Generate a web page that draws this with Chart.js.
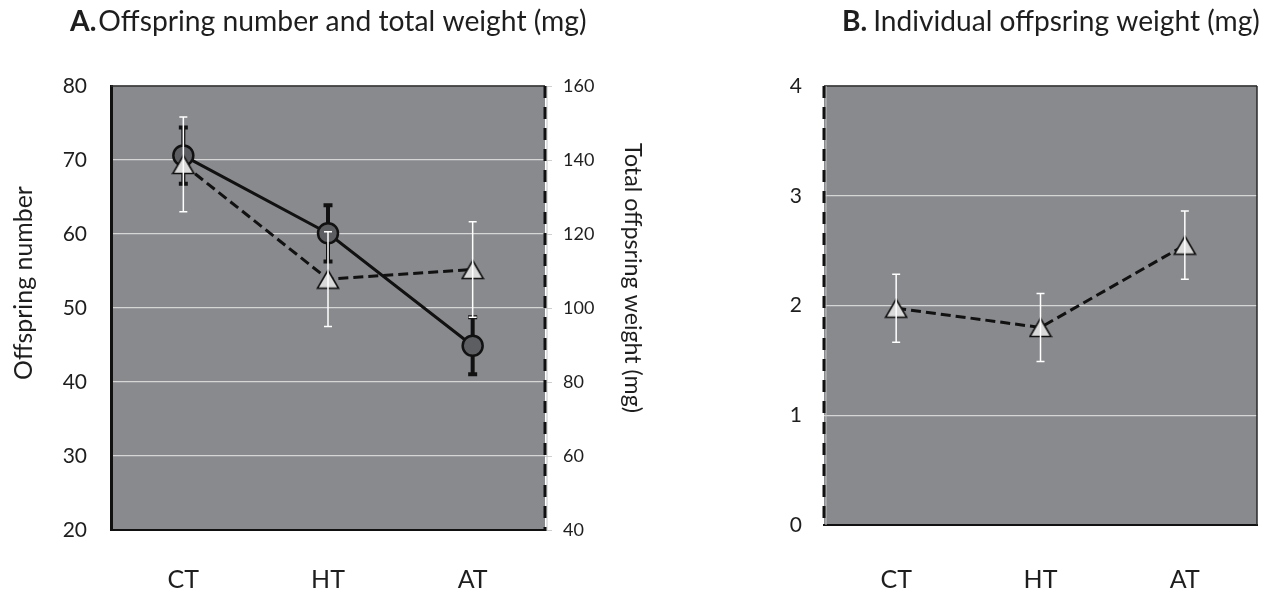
<!DOCTYPE html>
<html><head><meta charset="utf-8">
<script src="https://cdn.jsdelivr.net/npm/chart.js@4.4.1/dist/chart.umd.min.js"></script>
<style>
html,body{margin:0;padding:0;background:#fff;width:1272px;height:593px;overflow:hidden;}
#wa{position:absolute;left:0;top:0;width:660px;height:593px;}
#wb{position:absolute;left:640px;top:0;width:632px;height:593px;}
canvas{display:block;}
</style></head><body>
<div id="wa"><canvas id="ca" width="660" height="593"></canvas></div>
<div id="wb"><canvas id="cb" width="632" height="593"></canvas></div>
<script>
// ---- data ----
const categories = ['CT', 'HT', 'AT'];
const offspringNumber = [70.6, 60.1, 44.9];
const offspringNumberErr = [3.8, 3.8, 3.85];
const totalWeight = [138.8, 107.8, 110.4];
const totalWeightErr = [12.8, 12.8, 12.9];
const individualWeight = [1.975, 1.80, 2.55];
const individualWeightErr = [0.31, 0.31, 0.31];
const leftTicksA = [20, 30, 40, 50, 60, 70, 80];
const rightTicksA = [40, 60, 80, 100, 120, 140, 160];
const ticksB = [0, 1, 2, 3, 4];
const titleALetter = 'A.';
const titleAText = 'Offspring number and total weight (mg)';
const titleBLetter = 'B.';
const titleBText = 'Individual offpsring weight (mg)';
const yTitleA = 'Offspring number';
const y2TitleA = 'Total offpsring weight (mg)';

const FONT = 'Lato, "Noto Sans", sans-serif';
const TXT = '#1e1e1e';
const PLOT_BG = '#898a8e';
const GRID = '#d6d6d6';

// triangle marker centred on its bounding box (as in the original)
function makeTriangle(w, h){
  const c = document.createElement('canvas');
  c.width = w + 3; c.height = h + 3;
  const g = c.getContext('2d');
  g.beginPath();
  g.moveTo(c.width / 2, 1.5);
  g.lineTo(c.width - 1.5, c.height - 1.5);
  g.lineTo(1.5, c.height - 1.5);
  g.closePath();
  g.fillStyle = '#d9d9d9'; g.fill();
  g.lineWidth = 1.6; g.strokeStyle = '#111'; g.lineJoin = 'miter'; g.stroke();
  return c;
}
const TRI = makeTriangle(21, 18);

function setTicks(arr){ return s => { s.ticks = arr.map(v => ({value: v})); }; }

function errorBarPlugin(specs){
  function draw(chart, list){
    const ctx = chart.ctx;
    list.forEach(s => {
      const ds = chart.data.datasets[s.ds];
      const xs = chart.scales.x, ys = chart.scales[ds.yAxisID];
      ds.data.forEach((v, i) => {
        const x = xs.getPixelForValue(i);
        const yt = ys.getPixelForValue(v + s.err[i]);
        const yb = ys.getPixelForValue(v - s.err[i]);
        ctx.save();
        ctx.strokeStyle = s.color; ctx.lineWidth = s.width; ctx.lineCap = 'butt';
        ctx.beginPath();
        ctx.moveTo(x, yt); ctx.lineTo(x, yb);
        ctx.moveTo(x - s.cap / 2, yt); ctx.lineTo(x + s.cap / 2, yt);
        ctx.moveTo(x - s.cap / 2, yb); ctx.lineTo(x + s.cap / 2, yb);
        ctx.stroke();
        ctx.restore();
      });
    });
  }
  return {
    id: 'errbars',
    beforeDatasetsDraw(chart){ draw(chart, specs.filter(s => s.phase === 'before')); },
    afterDatasetsDraw(chart){ draw(chart, specs.filter(s => s.phase === 'after')); }
  };
}

function framePlugin(sides){
  return {
    id: 'frame',
    beforeDraw(chart){
      const {ctx, chartArea: a} = chart;
      ctx.save(); ctx.fillStyle = PLOT_BG;
      ctx.fillRect(a.left, a.top, a.right - a.left, a.bottom - a.top);
      ctx.restore();
    },
    afterDraw(chart){
      const {ctx, chartArea: a} = chart;
      ctx.save(); ctx.strokeStyle = '#2a2a2a'; ctx.lineWidth = 1.5;
      ctx.beginPath();
      if (sides.top){ ctx.moveTo(a.left, a.top); ctx.lineTo(a.right, a.top); }
      if (sides.right){ ctx.moveTo(a.right, a.top); ctx.lineTo(a.right, a.bottom); }
      ctx.stroke();
      if (sides.dashX !== undefined){
        const x = sides.dashX === 'left' ? a.left : a.right;
        ctx.strokeStyle = '#c4c4c4'; ctx.lineWidth = 1;
        ctx.beginPath();
        ctx.moveTo(x + 2, a.top); ctx.lineTo(x + 2, a.bottom);
        ctx.stroke();
        ctx.strokeStyle = '#111'; ctx.lineWidth = 3;
        ctx.setLineDash([12, 9]);
        ctx.beginPath();
        ctx.moveTo(x, a.top); ctx.lineTo(x, a.bottom + 1);
        ctx.stroke();
      }
      ctx.restore();
    }
  };
}

function textPlugin(items){
  return {
    id: 'texts',
    afterDraw(chart){
      const ctx = chart.ctx;
      items.forEach(it => {
        ctx.save();
        ctx.fillStyle = TXT;
        if (it.type === 'title'){
          ctx.font = 'bold 20px ' + FONT;
          const wb = ctx.measureText(it.letter).width;
          ctx.font = 'normal 20px ' + FONT;
          const wr = ctx.measureText(it.text).width;
          const size = 20 * (it.w - it.gap) / (wb + wr);
          ctx.textBaseline = 'alphabetic'; ctx.textAlign = 'left';
          ctx.font = 'bold ' + size + 'px ' + FONT;
          ctx.fillText(it.letter, it.x, it.y);
          const lw = ctx.measureText(it.letter).width;
          ctx.font = 'normal ' + size + 'px ' + FONT;
          ctx.fillText(it.text, it.x + lw + it.gap, it.y);
        } else {
          ctx.font = 'normal 20px ' + FONT;
          const size = 20 * it.w / ctx.measureText(it.text).width;
          ctx.font = 'normal ' + size + 'px ' + FONT;
          ctx.translate(it.x, it.y);
          ctx.rotate(it.rot);
          ctx.textAlign = 'center'; ctx.textBaseline = 'middle';
          ctx.fillText(it.text, 0, 0);
        }
        ctx.restore();
      });
    }
  };
}

Chart.defaults.font.family = FONT;
Chart.defaults.color = TXT;

// ---- Chart A ----
new Chart(document.getElementById('ca'), {
  type: 'line',
  data: {
    labels: categories,
    datasets: [
      {
        label: 'Offspring number',
        data: offspringNumber,
        yAxisID: 'y',
        order: 2,
        borderColor: '#111',
        borderWidth: 3,
        pointStyle: 'circle',
        pointRadius: 10,
        pointBackgroundColor: '#5d5e62',
        pointBorderColor: '#111',
        pointBorderWidth: 2.5,
        tension: 0
      },
      {
        label: 'Total offspring weight',
        data: totalWeight,
        yAxisID: 'y2',
        order: 1,
        borderColor: '#111',
        borderWidth: 3,
        borderDash: [10, 5],
        pointStyle: TRI,
        pointRadius: 12,
        tension: 0
      }
    ]
  },
  options: {
    responsive: false,
    animation: false,
    devicePixelRatio: 1,
    layout: {padding: {top: 86, left: 0, right: 0, bottom: 0}},
    plugins: {legend: {display: false}, tooltip: {enabled: false}},
    scales: {
      x: {
        type: 'category',
        offset: true,
        grid: {display: false, drawTicks: false},
        border: {display: true, color: '#111', width: 2},
        ticks: {font: {size: 25}, color: TXT, padding: 35},
        afterFit: s => { s.height = 63; }
      },
      y: {
        position: 'left',
        min: 20, max: 80,
        afterBuildTicks: setTicks(leftTicksA),
        grid: {color: GRID, lineWidth: 1.2, drawTicks: false},
        border: {display: true, color: '#111', width: 3},
        ticks: {font: {size: 21}, color: TXT, padding: 24},
        afterFit: s => { s.width = 111; }
      },
      y2: {
        position: 'right',
        min: 40, max: 160,
        afterBuildTicks: setTicks(rightTicksA),
        grid: {drawOnChartArea: false, drawTicks: true, tickLength: 7, tickColor: '#cfcfcf', lineWidth: 1},
        border: {display: false},
        ticks: {font: {size: 18}, color: TXT, padding: 11},
        afterFit: s => { s.width = 115; }
      }
    }
  },
  plugins: [
    framePlugin({top: true, right: false, dashX: 'right'}),
    errorBarPlugin([
      {ds: 0, err: offspringNumberErr, color: '#111', width: 4, cap: 9, phase: 'before'},
      {ds: 1, err: totalWeightErr, color: '#ffffff', width: 1.5, cap: 8, phase: 'after'}
    ]),
    textPlugin([
      {type: 'title', letter: titleALetter, text: titleAText, x: 70, y: 31, w: 517, gap: 2},
      {type: 'axis', text: yTitleA, x: 24, y: 283, w: 194, rot: -Math.PI / 2},
      {type: 'axis', text: y2TitleA, x: 632, y: 278, w: 270, rot: Math.PI / 2}
    ])
  ]
});

// ---- Chart B ----
new Chart(document.getElementById('cb'), {
  type: 'line',
  data: {
    labels: categories,
    datasets: [
      {
        label: 'Individual offspring weight',
        data: individualWeight,
        yAxisID: 'y',
        borderColor: '#111',
        borderWidth: 3,
        borderDash: [10, 5],
        pointStyle: TRI,
        pointRadius: 12,
        tension: 0
      }
    ]
  },
  options: {
    responsive: false,
    animation: false,
    devicePixelRatio: 1,
    layout: {padding: {top: 86, left: 0, right: 3, bottom: 0}},
    plugins: {legend: {display: false}, tooltip: {enabled: false}},
    scales: {
      x: {
        type: 'category',
        offset: true,
        grid: {display: false, drawTicks: false},
        border: {display: true, color: '#111', width: 2},
        ticks: {font: {size: 25}, color: TXT, padding: 40},
        afterFit: s => { s.height = 68; }
      },
      y: {
        position: 'left',
        min: 0, max: 4,
        afterBuildTicks: setTicks(ticksB),
        grid: {color: GRID, lineWidth: 1.2, drawTicks: false},
        border: {display: false},
        ticks: {font: {size: 21}, color: TXT, padding: 22},
        afterFit: s => { s.width = 184; }
      }
    }
  },
  plugins: [
    framePlugin({top: true, right: true, dashX: 'left'}),
    errorBarPlugin([
      {ds: 0, err: individualWeightErr, color: '#ffffff', width: 1.5, cap: 8, phase: 'after'}
    ]),
    textPlugin([
      {type: 'title', letter: titleBLetter, text: titleBText, x: 202, y: 31, w: 418, gap: 6}
    ])
  ]
});
</script>
</body></html>
